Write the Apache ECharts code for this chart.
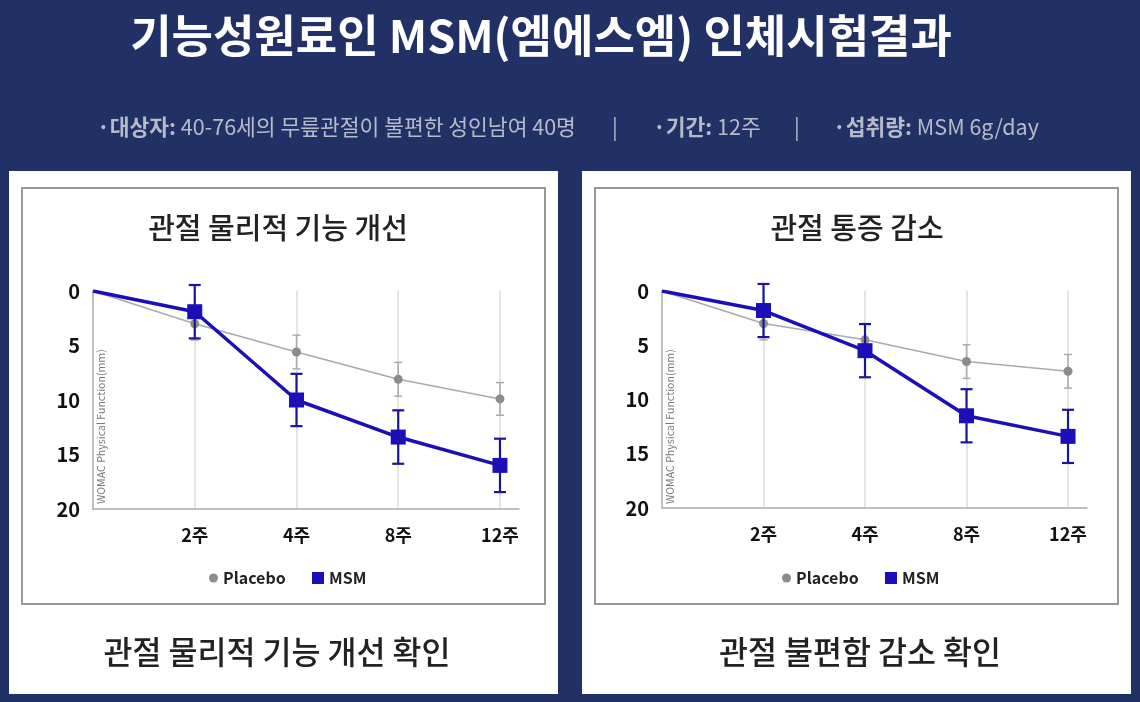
<!DOCTYPE html>
<html><head><meta charset="utf-8">
<script src="https://cdn.jsdelivr.net/npm/echarts@6/dist/echarts.min.js"></script>
<style>html,body{margin:0;padding:0;background:#223165;}#c{width:1140px;height:702px;}</style>
</head><body><div id="c"></div>
<script>
// ---- data ----
const categories = ['', '2주', '4주', '8주', '12주'];
const baseline = 0;
const physPlacebo = [3.0, 5.6, 8.1, 9.9];
const physPlaceboErr = [1.5, 1.55, 1.55, 1.5];
const physMsm = [1.9, 10.0, 13.4, 16.0];
const physMsmErr = [2.45, 2.4, 2.45, 2.45];
const painPlacebo = [3.0, 4.5, 6.5, 7.4];
const painPlaceboErr = [1.5, 1.5, 1.55, 1.55];
const painMsm = [1.8, 5.5, 11.5, 13.4];
const painMsmErr = [2.45, 2.45, 2.45, 2.45];
const yTicks = [0, 5, 10, 15, 20];
const seriesNames = ['Placebo', 'MSM'];

const FONT = '"Noto Sans CJK KR", "Noto Sans", sans-serif';
const MSM_COLOR = '#1c0fb8';
const MSM_ERR = '#1d1599';
const PLA_LINE = '#aaaaaa';
const PLA_DOT = '#8c8c8c';

function lineData(vals) {
  const d = [{ value: [0, baseline], symbol: 'none' }];
  vals.forEach((v, i) => d.push([i + 1, v]));
  return d;
}
function errData(vals, errs) {
  return vals.map((v, i) => [i + 1, v - errs[i], v + errs[i]]);
}
function errRender(capHalf, color, width) {
  return function (params, api) {
    const x = api.value(0), lo = api.value(1), hi = api.value(2);
    const p1 = api.coord([x, lo]), p2 = api.coord([x, hi]);
    const st = { stroke: color, lineWidth: width };
    return { type: 'group', children: [
      { type: 'line', shape: { x1: p1[0], y1: p1[1], x2: p2[0], y2: p2[1] }, style: st },
      { type: 'line', shape: { x1: p1[0] - capHalf, y1: p1[1], x2: p1[0] + capHalf, y2: p1[1] }, style: st },
      { type: 'line', shape: { x1: p2[0] - capHalf, y1: p2[1], x2: p2[0] + capHalf, y2: p2[1] }, style: st }
    ]};
  };
}

const grids = [
  { left: 93, top: 291, width: 426, height: 218 },
  { left: 662, top: 291, width: 425, height: 217 }
];
const XMAX = 4.187;
function xAxis(gi) {
  return {
    type: 'value', gridIndex: gi, min: 0, max: XMAX, interval: 1, position: 'bottom',
    axisLine: { show: true, onZero: false, lineStyle: { color: '#aaaaaa', width: 1.5 } },
    axisTick: { show: false },
    axisLabel: {
      margin: 17, fontFamily: FONT, fontSize: 18, fontWeight: 'bold', color: '#111',
      formatter: v => (Math.abs(v - Math.round(v)) < 1e-6 ? (categories[Math.round(v)] || '') : '')
    },
    splitLine: { show: true, showMinLine: false, showMaxLine: false, lineStyle: { color: '#dddddd', width: 1.5 } }
  };
}
function yAxis(gi) {
  return {
    type: 'value', gridIndex: gi, inverse: true, min: yTicks[0], max: yTicks[yTicks.length - 1],
    interval: yTicks[1] - yTicks[0],
    axisLine: { show: true, onZero: false, lineStyle: { color: '#aaaaaa', width: 1.5 } },
    axisTick: { show: false },
    splitLine: { show: false },
    axisLabel: { margin: 13, fontFamily: FONT, fontSize: 20, fontWeight: 'bold', color: '#111' }
  };
}
function seriesFor(gi, pla, plaErr, msm, msmErr) {
  return [
    { name: seriesNames[0], type: 'line', xAxisIndex: gi, yAxisIndex: gi, data: lineData(pla),
      symbol: 'circle', symbolSize: 9, lineStyle: { color: PLA_LINE, width: 1.5 },
      itemStyle: { color: PLA_DOT }, z: 2, animation: false },
    { name: seriesNames[0], type: 'custom', xAxisIndex: gi, yAxisIndex: gi, data: errData(pla, plaErr),
      renderItem: errRender(4, PLA_LINE, 1.5), encode: { x: 0, y: [1, 2] }, z: 2, clip: false, animation: false },
    { name: seriesNames[1], type: 'custom', xAxisIndex: gi, yAxisIndex: gi, data: errData(msm, msmErr),
      renderItem: errRender(6, MSM_ERR, 2.2), encode: { x: 0, y: [1, 2] }, z: 3, clip: false, animation: false },
    { name: seriesNames[1], type: 'line', xAxisIndex: gi, yAxisIndex: gi, data: lineData(msm),
      symbol: 'rect', symbolSize: 15, lineStyle: { color: MSM_COLOR, width: 3.5 },
      itemStyle: { color: MSM_COLOR }, z: 4, animation: false }
  ];
}
function legendFor(name, left, icon, size, color) {
  return {
    data: [{ name: name, icon: icon, itemStyle: { color: color } }],
    left: left, top: 565, itemWidth: size, itemHeight: size, selectedMode: false,
    textStyle: { fontFamily: FONT, fontSize: 16, fontWeight: 600, color: '#222' }
  };
}

const white = '#ffffff';
const sub = '21.5px ' + FONT;
const subRich = { b: { fontWeight: 'bold', fontSize: 21.5, fontFamily: FONT, fill: '#b7bbc9' } };
const graphics = [
  { type: 'rect', z: -10, shape: { x: 9, y: 171, width: 549, height: 523 }, style: { fill: white } },
  { type: 'rect', z: -10, shape: { x: 582, y: 171, width: 549, height: 523 }, style: { fill: white } },
  { type: 'rect', z: -9, shape: { x: 22, y: 188, width: 523, height: 416 }, style: { fill: white, stroke: '#999999', lineWidth: 2 } },
  { type: 'rect', z: -9, shape: { x: 595, y: 188, width: 523, height: 416 }, style: { fill: white, stroke: '#999999', lineWidth: 2 } },
  { type: 'text', x: 541, y: 36, style: { text: '기능성원료인 MSM(엠에스엠) 인체시험결과', fill: '#ffffff', font: 'bold 45px ' + FONT, textAlign: 'center', textVerticalAlign: 'middle' } },
  { type: 'text', x: 97, y: 127, style: { text: '{b|·대상자:} 40-76세의 무릎관절이 불편한 성인남여 40명', fill: '#b7bbc9', font: sub, textVerticalAlign: 'middle', rich: subRich } },
  { type: 'text', x: 615, y: 127, style: { text: '|', fill: '#b7bbc9', font: sub, textAlign: 'center', textVerticalAlign: 'middle' } },
  { type: 'text', x: 653, y: 127, style: { text: '{b|·기간:} 12주', fill: '#b7bbc9', font: sub, textVerticalAlign: 'middle', rich: subRich } },
  { type: 'text', x: 797, y: 127, style: { text: '|', fill: '#b7bbc9', font: sub, textAlign: 'center', textVerticalAlign: 'middle' } },
  { type: 'text', x: 833, y: 127, style: { text: '{b|·섭취량:} MSM 6g/day', fill: '#b7bbc9', font: sub, textVerticalAlign: 'middle', rich: subRich } },
  { type: 'text', x: 278, y: 228, style: { text: '관절 물리적 기능 개선', fill: '#222', font: '500 29px ' + FONT, textAlign: 'center', textVerticalAlign: 'middle' } },
  { type: 'text', x: 857, y: 228, style: { text: '관절 통증 감소', fill: '#222', font: '500 29px ' + FONT, textAlign: 'center', textVerticalAlign: 'middle' } },
  { type: 'text', x: 277, y: 652, style: { text: '관절 물리적 기능 개선 확인', fill: '#222', font: '500 31.5px ' + FONT, textAlign: 'center', textVerticalAlign: 'middle' } },
  { type: 'text', x: 860, y: 652, style: { text: '관절 불편함 감소 확인', fill: '#222', font: '500 31.5px ' + FONT, textAlign: 'center', textVerticalAlign: 'middle' } },
  { type: 'text', x: 101, y: 504, rotation: Math.PI / 2, style: { text: 'WOMAC Physical Function(mm)', fill: '#777', font: '10.6px ' + FONT, textAlign: 'left', textVerticalAlign: 'middle' } },
  { type: 'text', x: 670, y: 504, rotation: Math.PI / 2, style: { text: 'WOMAC Physical Function(mm)', fill: '#777', font: '10.6px ' + FONT, textAlign: 'left', textVerticalAlign: 'middle' } }
];

const chart = echarts.init(document.getElementById('c'), null, { renderer: 'canvas' });
chart.setOption({
  backgroundColor: '#223165',
  animation: false,
  grid: grids,
  xAxis: [xAxis(0), xAxis(1)],
  yAxis: [yAxis(0), yAxis(1)],
  legend: [
    legendFor(seriesNames[0], 204, 'circle', 9, PLA_DOT),
    legendFor(seriesNames[1], 307, 'rect', 12, MSM_COLOR),
    legendFor(seriesNames[0], 777, 'circle', 9, PLA_DOT),
    legendFor(seriesNames[1], 880, 'rect', 12, MSM_COLOR)
  ],
  series: [].concat(
    seriesFor(0, physPlacebo, physPlaceboErr, physMsm, physMsmErr),
    seriesFor(1, painPlacebo, painPlaceboErr, painMsm, painMsmErr)
  ),
  graphic: graphics
});
</script></body></html>
